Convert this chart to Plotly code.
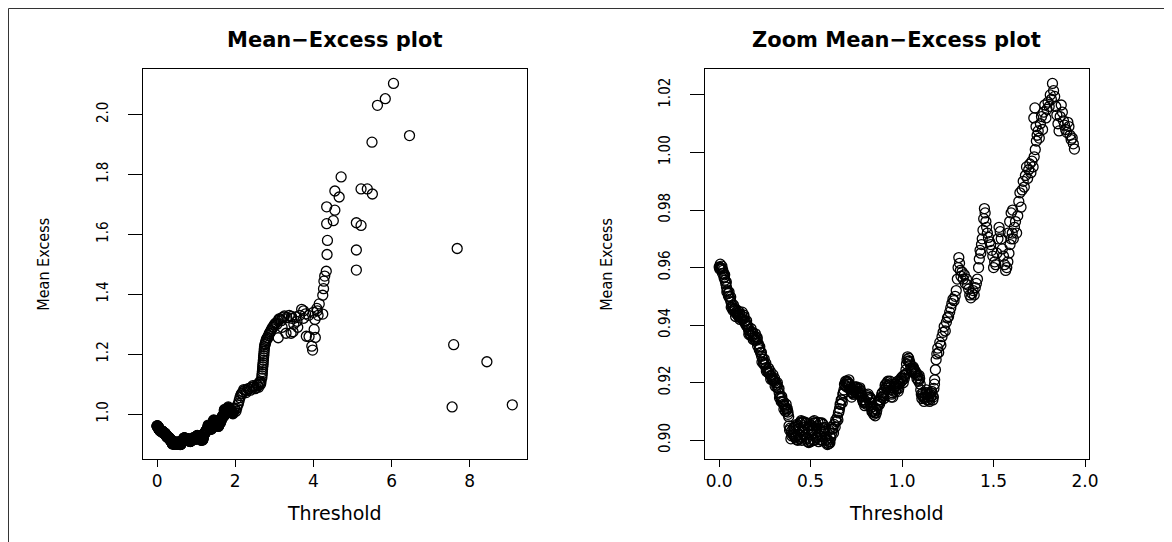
import plotly.graph_objects as go

# ---------------- data ----------------
# threshold <= ~1.95 (shown in both panels)
zoom_x = [
    0.000, 0.004, 0.008, 0.012, 0.016, 0.020, 0.024, 0.028, 0.032, 0.036, 0.040, 0.045, 0.050, 0.055, 0.060, 0.065, 0.070, 0.075, 0.080,
    0.085, 0.090, 0.095, 0.100, 0.106, 0.112, 0.118, 0.124, 0.130, 0.136, 0.142, 0.148,
    0.154, 0.160, 0.166, 0.172, 0.178, 0.184, 0.190, 0.196, 0.202, 0.208, 0.214, 0.220,
    0.226, 0.232, 0.238, 0.244, 0.250, 0.256, 0.262, 0.268, 0.274, 0.280, 0.286, 0.292, 0.298, 0.304, 0.310, 0.316, 0.322, 0.328, 0.334, 0.340,
    0.346, 0.352, 0.358, 0.364, 0.370, 0.376, 0.380,
    0.382, 0.388, 0.394, 0.400, 0.406, 0.412, 0.418, 0.424, 0.430, 0.436, 0.442, 0.448, 0.454, 0.460, 0.466, 0.472, 0.478, 0.484, 0.490, 0.496,
    0.502, 0.508, 0.514, 0.520, 0.526, 0.532, 0.538, 0.544, 0.550, 0.556, 0.562, 0.568, 0.574, 0.580, 0.586, 0.592, 0.598, 0.604, 0.610, 0.616,
    0.410, 0.425, 0.445, 0.470, 0.495, 0.515, 0.540, 0.565, 0.600,
    0.622, 0.628, 0.634, 0.640, 0.646, 0.652, 0.658, 0.664, 0.670, 0.676, 0.682, 0.688, 0.694, 0.700, 0.706, 0.712, 0.718,
    0.724, 0.730, 0.736, 0.742, 0.748, 0.754, 0.760, 0.766, 0.772, 0.778, 0.784, 0.790, 0.796, 0.802, 0.808,
    0.814, 0.820, 0.826, 0.832, 0.838, 0.844, 0.850, 0.856, 0.862, 0.868, 0.874, 0.880, 0.886, 0.892, 0.898,
    0.904, 0.910, 0.916, 0.922, 0.928, 0.934, 0.940, 0.946, 0.952, 0.958, 0.964, 0.970, 0.976, 0.982, 0.988, 0.994, 1.000,
    1.006, 1.012, 1.018, 1.024, 1.030, 1.036, 1.042, 1.048, 1.054, 1.060, 1.066, 1.072, 1.078, 1.084, 1.090, 1.096,
    1.102, 1.108, 1.114, 1.120, 1.126, 1.132, 1.138, 1.144, 1.150, 1.156, 1.162, 1.168, 1.174,
    1.178, 1.182, 1.186, 1.190, 1.195, 1.200, 1.206, 1.212, 1.218, 1.224, 1.230, 1.236, 1.242, 1.248, 1.254, 1.260, 1.266, 1.272, 1.278, 1.284,
    1.290, 1.296, 1.302, 1.306,
    1.310, 1.314, 1.318, 1.322, 1.328, 1.334, 1.340, 1.346, 1.352, 1.358, 1.364, 1.370, 1.376, 1.382, 1.388, 1.394, 1.400, 1.406, 1.412, 1.418,
    1.422, 1.426, 1.430, 1.434, 1.438, 1.442, 1.446, 1.450, 1.454, 1.458, 1.462, 1.466, 1.472, 1.478, 1.484, 1.490, 1.496,
    1.500, 1.506, 1.512, 1.518, 1.524, 1.530, 1.536, 1.542, 1.548, 1.554, 1.560, 1.566, 1.572, 1.578, 1.584, 1.590, 1.596,
    1.580, 1.588, 1.596, 1.604,
    1.602, 1.608, 1.614, 1.620, 1.626, 1.632, 1.638, 1.644, 1.650, 1.656, 1.662, 1.668, 1.674, 1.680, 1.686, 1.692, 1.698, 1.704, 1.710, 1.716,
    1.722, 1.728, 1.734,
    1.720, 1.726, 1.732, 1.738, 1.744, 1.750, 1.756, 1.762, 1.768, 1.774, 1.780, 1.786, 1.792, 1.798, 1.804, 1.810, 1.816, 1.822, 1.828, 1.834,
    1.840, 1.846, 1.852, 1.858, 1.864, 1.870, 1.876, 1.882, 1.888, 1.894, 1.900, 1.906, 1.912, 1.918, 1.924, 1.930, 1.936, 1.942,
    # band spread (upper / lower edges of the dense band)
    0.006, 0.018, 0.030, 0.042, 0.054, 0.066, 0.078, 0.090, 0.102, 0.114, 0.126, 0.138, 0.150, 0.162, 0.174, 0.186,
    0.198, 0.210, 0.222, 0.234, 0.246, 0.258, 0.270, 0.282, 0.294, 0.306, 0.318, 0.330, 0.342, 0.354, 0.366, 0.376,
    0.392, 0.404, 0.418, 0.432, 0.452, 0.462, 0.478, 0.488, 0.505, 0.522, 0.535, 0.548, 0.560, 0.575, 0.590, 0.605, 0.612,
    0.625, 0.637, 0.649, 0.661, 0.673, 0.685, 0.697, 0.709, 0.721,
    0.733, 0.745, 0.757, 0.769, 0.781, 0.793, 0.805, 0.817, 0.829, 0.841, 0.853, 0.865, 0.877, 0.889, 0.901,
    0.913, 0.925, 0.937, 0.949, 0.961, 0.973, 0.985, 0.997, 1.009, 1.021, 1.033, 1.045, 1.057, 1.069, 1.081, 1.093,
    1.105, 1.117, 1.129, 1.141, 1.153, 1.165, 1.177,
    0.003, 0.015, 0.027, 0.039, 0.051, 0.063, 0.075, 0.087, 0.099, 0.111, 0.123, 0.135, 0.147, 0.159, 0.171, 0.183,
    0.195, 0.207, 0.219, 0.231, 0.243, 0.255, 0.267, 0.279, 0.291, 0.303, 0.315, 0.327, 0.339, 0.351, 0.363, 0.372,
    0.655, 0.667, 0.679, 0.691, 0.703, 0.715, 0.727, 0.739, 0.751, 0.763, 0.775, 0.787, 0.799, 0.811, 0.823,
    0.835, 0.847, 0.859, 0.871, 0.883, 0.895, 0.907, 0.919, 0.931, 0.943, 0.955, 0.967, 0.979, 0.991, 1.003,
    1.015, 1.027, 1.039, 1.051, 1.063, 1.075, 1.087, 1.099, 1.111, 1.123, 1.135, 1.147, 1.159, 1.171,
    0.385, 0.397, 0.409, 0.421, 0.433, 0.439, 0.451, 0.457, 0.469, 0.481, 0.493, 0.499, 0.511, 0.517, 0.529, 0.541,
    0.553, 0.559, 0.571, 0.583, 0.595, 0.607, 0.619,
]
zoom_y = [
    0.9602, 0.9601, 0.9600, 0.9598, 0.9595, 0.9590, 0.9580, 0.9568, 0.9556, 0.9545, 0.9532, 0.9520, 0.9510, 0.9500, 0.9490, 0.9480, 0.9468, 0.9460, 0.9455,
    0.9450, 0.9442, 0.9446, 0.9436, 0.9430, 0.9438, 0.9425, 0.9432, 0.9420, 0.9428, 0.9415, 0.9405,
    0.9395, 0.9385, 0.9372, 0.9378, 0.9362, 0.9368, 0.9355, 0.9360, 0.9348, 0.9352, 0.9335, 0.9320,
    0.9305, 0.9292, 0.9282, 0.9270, 0.9262, 0.9252, 0.9245, 0.9238, 0.9232, 0.9225, 0.9222, 0.9215, 0.9208, 0.9205, 0.9200, 0.9192, 0.9180, 0.9165, 0.9152, 0.9145,
    0.9132, 0.9125, 0.9118, 0.9110, 0.9105, 0.9098, 0.9082,
    0.9050, 0.9042, 0.9030, 0.9022, 0.9018, 0.9012, 0.9008, 0.9002, 0.9000, 0.9040, 0.9060, 0.9068, 0.9062, 0.9050, 0.9035, 0.9020, 0.9005, 0.8995, 0.8992, 0.9000,
    0.9020, 0.9050, 0.9065, 0.9068, 0.9060, 0.9040, 0.9010, 0.8995, 0.9002, 0.9030, 0.9060, 0.9055, 0.9030, 0.9010, 0.8990, 0.8985, 0.8988, 0.8995, 0.9008, 0.9025,
    0.9045, 0.9055, 0.9010, 0.9060, 0.9055, 0.9000, 0.9062, 0.9000, 0.9035,
    0.9040, 0.9055, 0.9045, 0.9065, 0.9080, 0.9095, 0.9110, 0.9125, 0.9140, 0.9160, 0.9175, 0.9190, 0.9200, 0.9205, 0.9200, 0.9195, 0.9185,
    0.9150, 0.9175, 0.9160, 0.9185, 0.9165, 0.9180, 0.9170, 0.9178, 0.9165, 0.9150, 0.9140, 0.9130, 0.9120, 0.9135, 0.9150,
    0.9160, 0.9148, 0.9130, 0.9115, 0.9100, 0.9090, 0.9095, 0.9110, 0.9105, 0.9120, 0.9140, 0.9135, 0.9150, 0.9165, 0.9155,
    0.9175, 0.9195, 0.9180, 0.9205, 0.9190, 0.9205, 0.9150, 0.9165, 0.9180, 0.9195, 0.9170, 0.9190, 0.9205, 0.9180, 0.9200, 0.9215, 0.9220,
    0.9200, 0.9215, 0.9230, 0.9265, 0.9290, 0.9285, 0.9270, 0.9250, 0.9240, 0.9255, 0.9245, 0.9240, 0.9230, 0.9225, 0.9205, 0.9215,
    0.9175, 0.9145, 0.9165, 0.9135, 0.9150, 0.9175, 0.9140, 0.9160, 0.9135, 0.9150, 0.9170, 0.9140, 0.9180,
    0.9210, 0.9245, 0.9280, 0.9300, 0.9320, 0.9305, 0.9340, 0.9330, 0.9360, 0.9375, 0.9395, 0.9380, 0.9410, 0.9425, 0.9430, 0.9445, 0.9460, 0.9475, 0.9490, 0.9485,
    0.9500, 0.9520, 0.9560, 0.9600,
    0.9635, 0.9615, 0.9590, 0.9570, 0.9585, 0.9560, 0.9575, 0.9545, 0.9560, 0.9540, 0.9525, 0.9505, 0.9495, 0.9510, 0.9520, 0.9505, 0.9530, 0.9545, 0.9560, 0.9600,
    0.9630, 0.9660, 0.9650, 0.9680, 0.9700, 0.9730, 0.9770, 0.9805, 0.9790, 0.9760, 0.9740, 0.9720, 0.9705, 0.9690, 0.9680, 0.9660, 0.9640,
    0.9600, 0.9620, 0.9610, 0.9650, 0.9700, 0.9740, 0.9725, 0.9700, 0.9665, 0.9640, 0.9610, 0.9590, 0.9600, 0.9620, 0.9650, 0.9680, 0.9700,
    0.9720, 0.9760, 0.9790, 0.9800,
    0.9720, 0.9700, 0.9740, 0.9760, 0.9720, 0.9780, 0.9830, 0.9860, 0.9810, 0.9870, 0.9900, 0.9880, 0.9920, 0.9950, 0.9910, 0.9940, 0.9960, 0.9930, 0.9970, 0.9950,
    0.9985, 1.0010, 1.0040,
    1.0120, 1.0155, 1.0090, 1.0060, 1.0075, 1.0050, 1.0100, 1.0125, 1.0080, 1.0140, 1.0165, 1.0120, 1.0150, 1.0175, 1.0160, 1.0200, 1.0185, 1.0240, 1.0215, 1.0195,
    1.0160, 1.0130, 1.0100, 1.0075, 1.0125, 1.0165, 1.0140, 1.0110, 1.0095, 1.0080, 1.0070, 1.0105, 1.0090, 1.0060, 1.0045, 1.0050, 1.0030, 1.0012,
    # band spread
    0.9612, 0.9580, 0.9575, 0.9515, 0.9515, 0.9462, 0.9470, 0.9430, 0.9450, 0.9420, 0.9445, 0.9410, 0.9415, 0.9368, 0.9388, 0.9350,
    0.9370, 0.9328, 0.9325, 0.9272, 0.9282, 0.9240, 0.9250, 0.9212, 0.9228, 0.9188, 0.9200, 0.9148, 0.9152, 0.9108, 0.9125, 0.9090,
    0.9005, 0.9040, 0.9050, 0.9020, 0.9000, 0.9065, 0.9060, 0.9040, 0.9035, 0.9000, 0.9050, 0.9040, 0.9000, 0.9045, 0.9005, 0.8990, 0.9045,
    0.9025, 0.9070, 0.9070, 0.9125, 0.9130, 0.9195, 0.9185, 0.9210, 0.9170,
    0.9160, 0.9175, 0.9165, 0.9182, 0.9155, 0.9140, 0.9125, 0.9140, 0.9145, 0.9108, 0.9085, 0.9120, 0.9125, 0.9160, 0.9145,
    0.9185, 0.9190, 0.9175, 0.9150, 0.9185, 0.9180, 0.9195, 0.9205, 0.9225, 0.9245, 0.9275, 0.9262, 0.9245, 0.9232, 0.9215, 0.9225,
    0.9160, 0.9150, 0.9160, 0.9150, 0.9160, 0.9155, 0.9195,
    0.9595, 0.9605, 0.9565, 0.9550, 0.9500, 0.9498, 0.9452, 0.9458, 0.9440, 0.9445, 0.9422, 0.9435, 0.9400, 0.9395, 0.9365, 0.9375,
    0.9350, 0.9358, 0.9315, 0.9305, 0.9265, 0.9268, 0.9235, 0.9240, 0.9210, 0.9215, 0.9185, 0.9180, 0.9135, 0.9135, 0.9100, 0.9110,
    0.9100, 0.9140, 0.9165, 0.9205, 0.9195, 0.9178, 0.9165, 0.9170, 0.9185, 0.9160, 0.9170, 0.9135, 0.9130, 0.9155, 0.9150,
    0.9100, 0.9100, 0.9095, 0.9130, 0.9140, 0.9150, 0.9190, 0.9200, 0.9195, 0.9160, 0.9170, 0.9195, 0.9170, 0.9210, 0.9210,
    0.9225, 0.9280, 0.9275, 0.9238, 0.9250, 0.9235, 0.9210, 0.9195, 0.9155, 0.9145, 0.9165, 0.9140, 0.9165, 0.9150,
    0.9035, 0.9015, 0.9030, 0.9015, 0.9050, 0.9005, 0.9065, 0.9010, 0.9045, 0.9010, 0.9050, 0.8995, 0.9035, 0.9060, 0.9010, 0.9020,
    0.9060, 0.9015, 0.9040, 0.9000, 0.9000, 0.9015, 0.9040,
]

# threshold > ~1.95 (only in the full plot)
tail_x = [
    1.96, 2.00, 2.04, 2.08, 2.12, 2.16, 2.20, 2.25, 2.30, 2.36, 2.42, 2.48, 2.54, 2.58, 2.62, 2.64, 2.66,
    1.98, 2.02, 2.06, 2.10, 2.14, 2.18, 2.22, 2.28, 2.33, 2.39, 2.45, 2.51, 2.56, 2.60, 2.63, 2.65,
    2.68, 2.69, 2.70, 2.71, 2.72, 2.73, 2.74, 2.75, 2.77, 2.79, 2.82, 2.85, 2.88, 2.92, 2.96, 3.00, 3.05, 3.10, 3.15, 3.20,
    2.685, 2.695, 2.705, 2.715, 2.725, 2.735, 2.745, 2.76, 2.78, 2.80, 2.84, 2.87, 2.90, 2.94, 2.98, 3.02, 3.07, 3.12, 3.18, 3.24,
    3.26, 3.32, 3.38, 3.44,
    3.45, 3.50, 3.55, 3.60, 3.65, 3.70, 3.75, 3.80, 3.20, 3.30, 3.10, 3.48, 3.43, 3.58,
    3.75, 3.82, 3.88, 3.89, 3.96, 3.98, 4.00, 4.02, 4.04, 4.05, 4.09, 4.10, 4.12, 4.15, 4.24, 4.24, 4.26, 4.27, 4.29, 4.33,
    4.35, 4.36, 4.34, 4.34, 4.51, 4.55, 4.55, 4.66, 4.71, 5.10, 5.22, 5.10, 5.10, 5.22, 5.38, 5.51, 5.50, 5.64, 5.84, 6.05,
    6.46, 7.68, 7.59, 7.55, 8.44, 9.09,
]
tail_y = [
    1.010, 1.015, 1.020, 1.035, 1.055, 1.068, 1.075, 1.080, 1.078, 1.085, 1.090, 1.092, 1.088, 1.095, 1.100, 1.105, 1.108,
    1.020, 1.010, 1.030, 1.045, 1.062, 1.070, 1.082, 1.072, 1.085, 1.080, 1.095, 1.085, 1.098, 1.090, 1.108, 1.100,
    1.120, 1.135, 1.150, 1.165, 1.180, 1.195, 1.210, 1.225, 1.235, 1.245, 1.255, 1.262, 1.270, 1.280, 1.290, 1.298, 1.305, 1.312, 1.318, 1.322,
    1.128, 1.142, 1.158, 1.172, 1.188, 1.202, 1.218, 1.232, 1.240, 1.250, 1.255, 1.268, 1.275, 1.285, 1.292, 1.302, 1.300, 1.318, 1.312, 1.325,
    1.328, 1.322, 1.330, 1.326,
    1.320, 1.300, 1.325, 1.290, 1.330, 1.350, 1.320, 1.335, 1.290, 1.270, 1.255, 1.275, 1.270, 1.310,
    1.345, 1.260, 1.330, 1.259, 1.227, 1.214, 1.340, 1.283, 1.316, 1.256, 1.353, 1.345, 1.330, 1.368, 1.334, 1.397, 1.419, 1.444, 1.461, 1.477,
    1.533, 1.580, 1.636, 1.692, 1.646, 1.681, 1.745, 1.725, 1.792, 1.639, 1.630, 1.548, 1.481, 1.752, 1.752, 1.735, 1.908, 2.031, 2.053, 2.104,
    1.930, 1.553, 1.232, 1.024, 1.175, 1.031,
]

assert len(zoom_x) == len(zoom_y), (len(zoom_x), len(zoom_y))
assert len(tail_x) == len(tail_y), (len(tail_x), len(tail_y))

left_xticks = [0, 2, 4, 6, 8]
left_yticks = [1.0, 1.2, 1.4, 1.6, 1.8, 2.0]
right_xticks = [0.0, 0.5, 1.0, 1.5, 2.0]
right_yticks = [0.90, 0.92, 0.94, 0.96, 0.98, 1.00, 1.02]

all_x = zoom_x + tail_x
all_y = zoom_y + tail_y

# ---------------- figure ----------------
PAGE_OFF = 8                       # default body margin of the html page
W, H = 1172 - PAGE_OFF, 542 - PAGE_OFF


def rrange(v):
    lo, hi = min(v), max(v)
    d = hi - lo
    return [lo - 0.04 * d, hi + 0.04 * d]


def px_x(p):
    return (p - PAGE_OFF) / W


def px_y(p):
    return 1 - (p - PAGE_OFF) / H


marker = dict(symbol="circle-open", size=10, color="black", line=dict(width=1.3, color="black"))

fig = go.Figure()
fig.add_trace(go.Scatter(x=all_x, y=all_y, mode="markers", marker=marker,
                         xaxis="x", yaxis="y", showlegend=False, hoverinfo="skip"))
fig.add_trace(go.Scatter(x=zoom_x, y=zoom_y, mode="markers", marker=marker,
                         xaxis="x2", yaxis="y2", showlegend=False, hoverinfo="skip"))

HFONT = "DejaVu Sans, Liberation Sans, Arial, sans-serif"
NFONT = "Liberation Sans Narrow, Arial Narrow, DejaVu Sans Condensed, Liberation Sans, sans-serif"

common = dict(showline=True, mirror=True, linecolor="black", linewidth=1,
              ticks="outside", tickcolor="black", tickwidth=1,
              showgrid=False, zeroline=False)

xcommon = dict(common, ticklen=7, tickfont=dict(family=HFONT, size=17, color="black"))
ycommon = dict(common, ticklen=14, tickangle=-90, ticklabelstandoff=14,
               tickfont=dict(family=NFONT, size=15, color="black"))

ydom = [px_y(459), px_y(69)]
fig.update_layout(
    width=W, height=H,
    margin=dict(l=0, r=0, t=0, b=0),
    paper_bgcolor="white", plot_bgcolor="white",
    xaxis=dict(xcommon, domain=[px_x(144), px_x(531)], range=rrange(all_x), anchor="y",
               tickvals=left_xticks, ticktext=[str(v) for v in left_xticks]),
    yaxis=dict(ycommon, domain=ydom, range=rrange(all_y), anchor="x",
               tickvals=left_yticks, ticktext=[f"{v:.1f}" for v in left_yticks]),
    xaxis2=dict(xcommon, domain=[px_x(711), px_x(1098)], range=rrange(zoom_x), anchor="y2",
                tickvals=right_xticks, ticktext=[f"{v:.1f}" for v in right_xticks]),
    yaxis2=dict(ycommon, domain=ydom, range=rrange(zoom_y), anchor="x2",
                tickvals=right_yticks, ticktext=[f"{v:.2f}" for v in right_yticks]),
)

ann = []
for cx, title in [((144 + 531) / 2, "Mean\u2212Excess plot"), ((711 + 1098) / 2, "Zoom Mean\u2212Excess plot")]:
    ann.append(dict(text=f"<b>{title}</b>", x=px_x(cx), y=px_y(40), xref="paper", yref="paper",
                    xanchor="center", yanchor="middle", showarrow=False,
                    font=dict(family=HFONT, size=21, color="black")))
    ann.append(dict(text="Threshold", x=px_x(cx), y=px_y(513), xref="paper", yref="paper",
                    xanchor="center", yanchor="middle", showarrow=False,
                    font=dict(family=HFONT, size=19, color="black")))
for lx in [43, 611]:
    ann.append(dict(text="Mean Excess", x=px_x(lx), y=px_y(264), xref="paper", yref="paper",
                    xanchor="center", yanchor="middle", showarrow=False, textangle=-90,
                    font=dict(family=NFONT, size=16, color="black")))
fig.update_layout(annotations=ann)

# outer frame (only its top and left edges are inside the picture)
fig.add_shape(type="rect", xref="paper", yref="paper",
              x0=px_x(8.5), y0=-0.2, x1=1.2, y1=px_y(8.5),
              line=dict(color="#333333", width=1))

fig.write_html("out.html")
